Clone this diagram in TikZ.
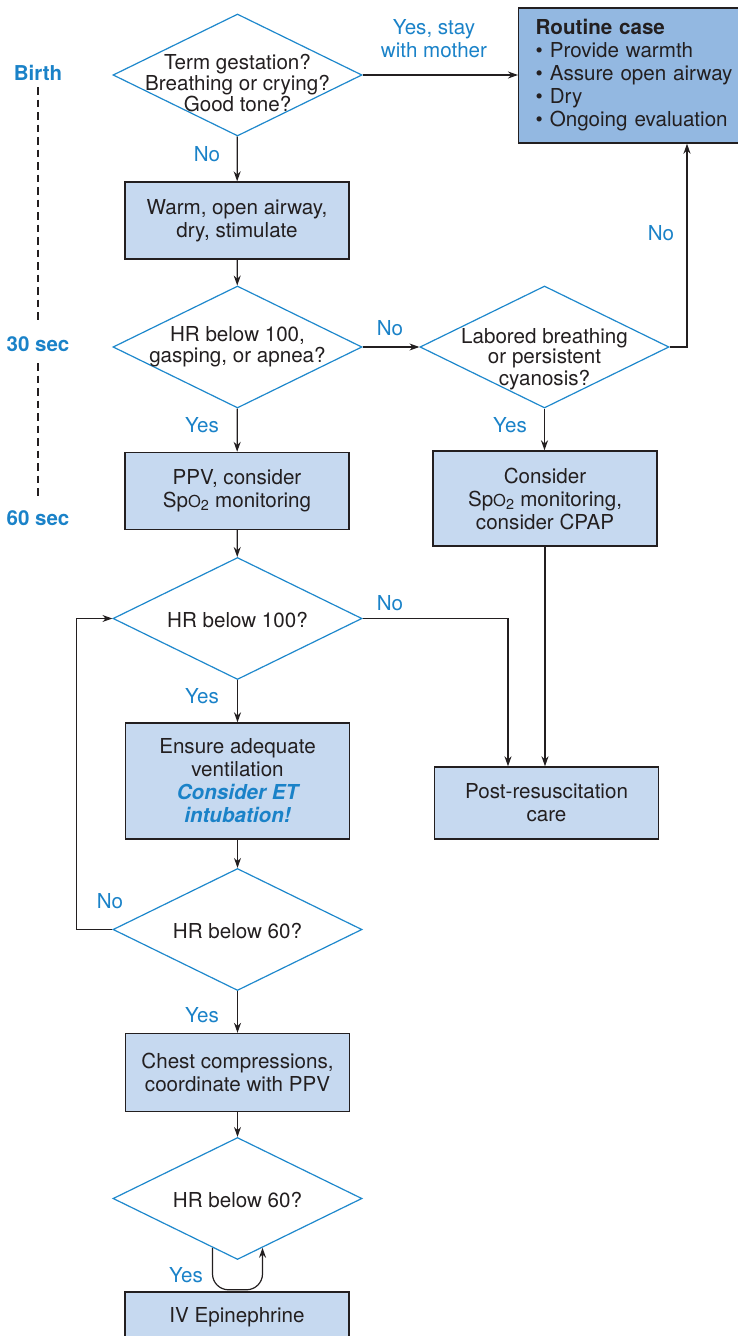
\documentclass[tikz,border=0pt]{standalone}
\usepackage{fontspec}
\setmainfont{TeX Gyre Heros}
\usetikzlibrary{shapes.geometric, arrows.meta, positioning, calc}
\definecolor{qblue}{HTML}{1E88CC}
\definecolor{lblblue}{HTML}{1A82C8}
\definecolor{boxfill}{HTML}{C6D9F0}
\definecolor{routinefill}{HTML}{93B8E1}
\definecolor{inkgray}{HTML}{231F20}
% text of a decision diamond, kept out of the shape size
\newcommand{\qtext}[2][-10pt]{\smash{\makebox[0pt]{\raisebox{#1}{\renewcommand{\arraystretch}{0.88}\begin{tabular}{@{}c@{}}#2\end{tabular}}}}}
\newcommand{\spo}{Sp{\fontsize{16.5}{16.5}\selectfont O}\textsubscript{2}}
\newcommand{\urgent}[1]{\textcolor{lblblue}{\bfseries\itshape #1}}
\tikzset{
	question/.style={diamond, draw=qblue, line width=1.2pt, fill=white, minimum width=249pt, minimum height=122pt, inner sep=0pt, text=inkgray},
	action/.style={rectangle, draw=inkgray, line width=1.4pt, fill=boxfill, minimum width=224pt, minimum height=77pt, align=center, inner sep=0pt, text=inkgray},
	answer/.style={text=lblblue, inner sep=0pt, align=center},
	timestamp/.style={text=lblblue, inner sep=0pt, font=\fontsize{20.5}{23}\selectfont\bfseries},
	flow/.style={draw=inkgray, line width=1.2pt, -{Stealth[length=10pt, width=7pt]}},
	timeline/.style={draw=inkgray, line width=2.9pt, dash pattern=on 7.5pt off 5pt}
}

\begin{document}
\begin{tikzpicture}[x=1pt, y=-1pt, font=\fontsize{20.6}{23}\selectfont]
	\useasboundingbox (0,0) rectangle (738,1336);
	\clip (0,0) rectangle (738,1336);

	% time axis
	\node[timestamp] (birth) at (38,73) {Birth};
	\node[timestamp] (t30) at (38,344) {30 sec};
	\node[timestamp] (t60) at (38,518) {60 sec};
	\draw[timeline, shorten <=14pt, shorten >=21pt] (birth.center) -- (t30.center);
	\draw[timeline, shorten <=19pt, shorten >=20pt] (t30.center) -- (t60.center);

	% main column
	\node[question] (d1) at (237.5,75) {\qtext[-16pt]{Term gestation?\\Breathing or crying?\\Good tone?}};
	\node[action] (warm) at (237,220.5) {Warm, open airway,\\dry, stimulate};
	\node[question] (d2) at (237.5,347) {\qtext[-6pt]{HR below 100,\\gasping, or apnea?}};
	\node[action] (ppv) at (237,491) {PPV, consider\\\spo{} monitoring};
	\node[question] (d3) at (237.5,618.5) {\qtext{HR below 100?}};
	\node[action, minimum height=116pt] (ensure) at (237.5,781) {Ensure adequate\\ventilation\\\urgent{Consider ET}\\\urgent{intubation!}};
	\node[question] (d4) at (237.5,929.5) {\qtext{HR below 60?}};
	\node[action, minimum height=78pt] (chest) at (237.5,1072.5) {Chest compressions,\\coordinate with PPV};
	\node[question] (d5) at (237.5,1198.5) {\qtext{HR below 60?}};
	\node[action, minimum height=50pt] (iv) at (237,1317) {IV Epinephrine};

	% right column
	\node[rectangle, draw=inkgray, line width=1.4pt, fill=routinefill, text=inkgray,
		minimum height=135pt, text width=206pt, inner xsep=17pt,
		align=left, anchor=west] (routine) at (518,75.5)
		{\textbf{Routine case}\\\textbullet\ Provide warmth\\\textbullet\ Assure open airway\\\textbullet\ Dry\\\textbullet\ Ongoing evaluation};
	\node[question] (labored) at (544.5,347) {\qtext[-18pt]{Labored breathing\\or persistent\\cyanosis?}};
	\node[action, minimum height=95pt] (consider) at (545,498.5) {Consider\\\spo{} monitoring,\\consider CPAP};
	\node[action, minimum height=72pt] (post) at (546.5,803) {Post-resuscitation\\care};

	% connectors
	\draw[flow] (d1.east) -- (d1.east -| routine.west);
	\draw[flow] (d1) -- (warm);
	\draw[flow] (warm) -- (d2);
	\draw[flow] (d2) -- (ppv);
	\draw[flow] (d2.east) -- (labored.west);
	\draw[flow] (labored.east) -| ([xshift=169pt]routine.south west);
	\draw[flow] (labored) -- (labored |- consider.north);
	\draw[flow] (consider.south) -- (consider.south |- post.north);
	\draw[flow] (ppv) -- (d3);
	\draw[flow] (d3) -- (ensure);
	\draw[flow] (d3.east) -| ([xshift=-38.5pt]post.north);
	\draw[flow] (ensure) -- (d4);
	\draw[flow] (d4.west) -- ++(-36,0) |- (d3.west);
	\draw[flow] (d4) -- (chest);
	\draw[flow] (chest) -- (d5);
	\draw[flow, rounded corners=16pt] ($(d5.south)!0.2!(d5.west)$) -- ++(0,42) -| ($(d5.south)!0.2!(d5.east)$);

	% answers
	\node[answer] (yesstay) at (434,39) {Yes, stay\\with mother};
	\node[answer] (no1) at (207,154) {No};
	\node[answer] (no2) at (390,328) {No};
	\node[answer] (no3) at (661,233) {No};
	\node[answer] (yes2) at (202,425) {Yes};
	\node[answer] (yes3) at (510,425) {Yes};
	\node[answer] (no4) at (390,603) {No};
	\node[answer] (yes4) at (202,696) {Yes};
	\node[answer] (no5) at (110,901) {No};
	\node[answer] (yes5) at (202,1015) {Yes};
	\node[answer] (yes6) at (186,1275) {Yes};
\end{tikzpicture}
\end{document}
